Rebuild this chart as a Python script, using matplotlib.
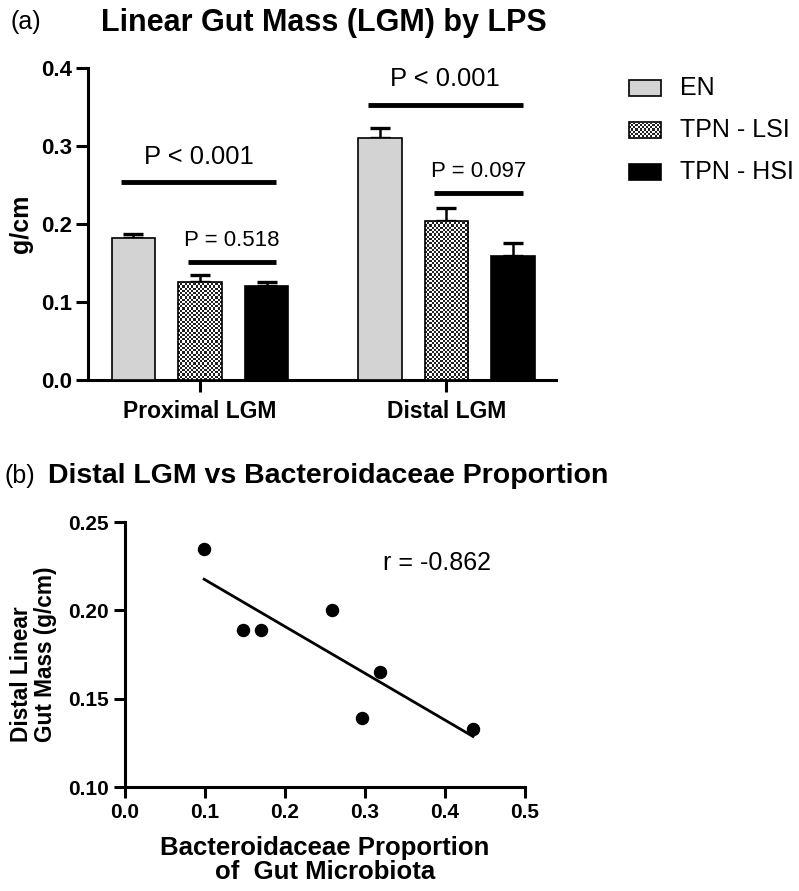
import matplotlib
matplotlib.use('Agg')
import matplotlib.pyplot as plt
from matplotlib.patches import Rectangle
import numpy as np

plt.rcParams['font.family'] = ['Liberation Sans', 'DejaVu Sans']

# ---- data panel (a)
groups = ['Proximal LGM', 'Distal LGM']
series = ['EN', 'TPN - LSI', 'TPN - HSI']
en_mean = [0.182, 0.310]
lsi_mean = [0.126, 0.204]
hsi_mean = [0.120, 0.159]
en_err = [0.005, 0.013]
lsi_err = [0.009, 0.016]
hsi_err = [0.006, 0.017]
# (group, first bar, last bar, line height, label)
sig = [(0, 0, 2, 0.254, 'P < 0.001'),
       (0, 1, 2, 0.151, 'P = 0.518'),
       (1, 0, 2, 0.353, 'P < 0.001'),
       (1, 1, 2, 0.240, 'P = 0.097')]

# ---- data panel (b)
bact = [0.099, 0.147, 0.170, 0.259, 0.296, 0.319, 0.435]
dlgm = [0.235, 0.189, 0.189, 0.200, 0.139, 0.165, 0.133]
r_text = 'r = -0.862'

fig = plt.figure(figsize=(7.99, 8.91), dpi=100)

def checker(ax, rect, cell_px=2.2):
    # checkerboard fill clipped to a bar
    bb = rect.get_window_extent(fig.canvas.get_renderer())
    nx = max(2, int(round(bb.width / cell_px)))
    ny = max(2, int(round(bb.height / cell_px)))
    img = (np.add.outer(np.arange(ny), np.arange(nx)) % 2).astype(float)
    x0, y0 = rect.get_x(), rect.get_y()
    im = ax.imshow(img, cmap='gray', vmin=-0.15, vmax=1.0, interpolation='nearest',
                   extent=[x0, x0 + rect.get_width(), y0, y0 + rect.get_height()],
                   aspect='auto', zorder=rect.get_zorder() - 0.1)
    im.set_clip_path(rect)

# ================= panel (a)
ax = fig.add_axes([0.110, 0.5735, 0.586, 0.3502])
xg = np.arange(len(groups))
off = 0.27
w = 0.178
means = [en_mean, lsi_mean, hsi_mean]
errs = [en_err, lsi_err, hsi_err]
faces = ['#d3d3d3', 'none', 'black']
lsi_bars = []
for i in range(3):
    xs = xg + (i - 1) * off
    bars = ax.bar(xs, means[i], w, color=faces[i], edgecolor='black', linewidth=1.2, zorder=3)
    ax.errorbar(xs, means[i], yerr=[np.zeros(2), errs[i]], fmt='none', ecolor='black',
                elinewidth=1.8, capsize=7.5, capthick=2.4, zorder=2)
    if i == 1:
        lsi_bars = list(bars)

ax.set_xlim(-0.455, 1.445)
ax.set_ylim(0, 0.4)
ax.set_yticks([0.0, 0.1, 0.2, 0.3, 0.4])
ax.set_yticklabels(['0.0', '0.1', '0.2', '0.3', '0.4'])
ax.set_xticks(xg)
ax.set_xticklabels(groups)
for s in ['top', 'right']:
    ax.spines[s].set_visible(False)
for s in ['left', 'bottom']:
    ax.spines[s].set_linewidth(2.2)
ax.tick_params(axis='both', width=2.2, length=8.5, labelsize=16)
ax.tick_params(axis='y', pad=3)
ax.tick_params(axis='x', pad=6, labelsize=16.5)
for lab in ax.get_xticklabels() + ax.get_yticklabels():
    lab.set_fontweight('bold')
ax.set_ylabel('g/cm', fontsize=18, fontweight='bold', labelpad=6)

for g, a, b, h, lab in sig:
    x1 = g + (a - 1) * off - 0.05
    x2 = g + (b - 1) * off + 0.04
    ax.plot([x1, x2], [h, h], color='black', lw=3.5, solid_capstyle='butt', clip_on=False)
    fs = 18.4 if '<' in lab else 16
    ax.text((x1 + x2) / 2, h + (0.017 if '<' in lab else 0.014), lab, ha='center', va='bottom', fontsize=fs)

fig.canvas.draw()
for b in lsi_bars:
    checker(ax, b)

# legend drawn by hand
lx0, lw_, lh = 629, 32, 15
for k, (name, fc) in enumerate(zip(series, faces)):
    yc = 88 + k * 42
    r = Rectangle((lx0 / 799, 1 - (yc + lh / 2) / 891), lw_ / 799, lh / 891,
                  transform=fig.transFigure, facecolor=fc, edgecolor='black', lw=1.2, zorder=3)
    fig.add_artist(r)
    if fc == 'none':
        cax = fig.add_axes([lx0 / 799, 1 - (yc + lh / 2) / 891, lw_ / 799, lh / 891])
        cax.axis('off')
        nx, ny = 15, 7
        img = (np.add.outer(np.arange(ny), np.arange(nx)) % 2).astype(float)
        cax.imshow(img, cmap='gray', vmin=-0.15, vmax=1.0, interpolation='nearest', aspect='auto')
    fig.text(680 / 799, 1 - yc / 891, name, fontsize=18, va='center', ha='left')

fig.text(10 / 799, 1 - 22 / 891, '(a)', fontsize=18, va='center', ha='left')
fig.text(101 / 799, 1 - 23 / 891, 'Linear Gut Mass (LGM) by LPS', fontsize=22,
         fontweight='bold', va='center', ha='left')

# ================= panel (b)
bx = fig.add_axes([0.1564, 0.1167, 0.5006, 0.2974])
bx.scatter(bact, dlgm, s=75, color='black', zorder=3)
slope, icpt = np.polyfit(bact, dlgm, 1)
xl = np.array([min(bact), max(bact)])
bx.plot(xl, slope * xl + icpt, color='black', lw=2)
bx.set_xlim(0, 0.5)
bx.set_ylim(0.10, 0.25)
bx.set_xticks([0.0, 0.1, 0.2, 0.3, 0.4, 0.5])
bx.set_xticklabels(['0.0', '0.1', '0.2', '0.3', '0.4', '0.5'])
bx.set_yticks([0.10, 0.15, 0.20, 0.25])
bx.set_yticklabels(['0.10', '0.15', '0.20', '0.25'])
for s in ['top', 'right']:
    bx.spines[s].set_visible(False)
for s in ['left', 'bottom']:
    bx.spines[s].set_linewidth(2.2)
bx.tick_params(axis='both', width=2.2, length=8, labelsize=15)
for lab in bx.get_xticklabels() + bx.get_yticklabels():
    lab.set_fontweight('bold')
bx.set_xlabel('Bacteroidaceae Proportion\nof  Gut Microbiota', fontsize=18.5,
              fontweight='bold', labelpad=10, linespacing=1.0)
bx.set_ylabel('Distal Linear\nGut Mass (g/cm)', fontsize=16.3, fontweight='bold',
              labelpad=8, linespacing=1.05, multialignment='left')
bx.text(0.322, 0.227, r_text, fontsize=18, va='center', ha='left')

fig.text(5 / 799, 1 - 476 / 891, '(b)', fontsize=18, va='center', ha='left')
fig.text(48 / 799, 1 - 476 / 891, 'Distal LGM vs Bacteroidaceae Proportion', fontsize=20.5,
         fontweight='bold', va='center', ha='left')

fig.savefig('out.png', dpi=100)
